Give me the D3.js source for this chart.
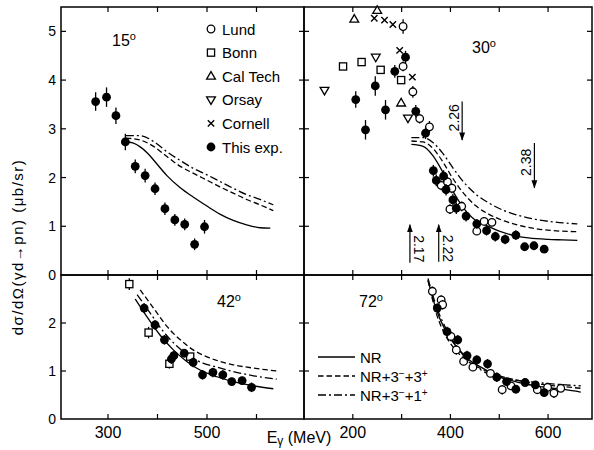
<!DOCTYPE html>
<html>
<head>
<meta charset="utf-8">
<script src="https://cdn.jsdelivr.net/npm/d3@7"></script>
<style>
  body { margin: 0; background: #fff; }
  svg { display: block; font-family: "Liberation Sans", Arial, sans-serif; }
</style>
</head>
<body>
<div id="chart"></div>
<script>
// ---- data: [E_gamma (MeV), dsigma/dOmega (ub/sr), error] ----
const exp15 = [[275,3.56,.19],[297,3.65,.2],[316,3.27,.17],[335,2.73,.17],[355,2.23,.14],[375,2.04,.14],
  [395,1.77,.13],[415,1.36,.13],[435,1.13,.12],[455,1.04,.12],[475,0.63,.12],[495,0.99,.14]];
const nr15   = [[336,2.74],[350,2.71],[365,2.63],[380,2.50],[392,2.36],[419,2.04],[446,1.79],[472,1.60],
  [499,1.42],[526,1.25],[553,1.12],[580,1.03],[607,0.97],[628,0.96]];
const nr33_15 = [[336,2.81],[365,2.77],[392,2.64],[419,2.43],[446,2.23],[472,2.09],[499,1.95],[526,1.81],
  [553,1.68],[580,1.55],[607,1.44],[634,1.32]];
const nr31_15 = [[336,2.86],[365,2.86],[392,2.74],[419,2.53],[446,2.35],[472,2.19],[499,2.06],[526,1.92],
  [553,1.78],[580,1.65],[607,1.55],[634,1.44]];

const exp30 = [[206,3.60,.17],[226,2.98,.2],[246,3.88,.2],[267,3.39,.2],[286,4.18,.13],[308,4.47,.13],
  [329,3.36,.13],[349,2.91,.12],[365,2.14,.12],[371,1.94,.12],[386,2.03,.12],[391,1.75,.12],[405,1.54,.12],
  [412,1.37,.12],[432,1.21,.11],[454,1.05,.1],[474,0.91,.1],[492,0.79,.1],[512,0.73,.1],[534,0.82,.1],
  [552,0.58,.08],[571,0.60,.08],[592,0.53,.08]];
const lund30 = [[303,5.10,.15],[303,4.28,.1],[323,3.76,.12],[337,3.21,.1],[357,3.04,.12],[381,1.84,.1],
  [394,1.91,.1],[403,1.78,.1],[399,1.35,.1],[423,1.41,.1],[454,0.90,.08],[469,1.10,.08],[485,1.08,.08]];
const bonn30 = [[180,4.28],[218,4.37],[257,4.21],[299,4.00]];
const caltech30 = [[203,5.25],[250,5.43],[299,3.53]];
const orsay30 = [[142,3.79],[247,4.47],[313,3.22]];
const cornell30 = [[244,5.27],[265,5.23],[282,5.14],[296,4.61],[322,4.06]];
const nr30   = [[320,2.68],[344,2.64],[364,2.45],[384,2.12],[405,1.72],[425,1.40],[452,1.12],[473,1.02],
  [500,0.90],[530,0.81],[560,0.76],[600,0.73],[630,0.72],[660,0.71]];
const nr33_30 = [[320,2.75],[344,2.73],[364,2.60],[384,2.33],[405,1.98],[425,1.70],[452,1.42],[480,1.24],
  [510,1.11],[540,1.02],[575,0.95],[610,0.91],[660,0.89]];
const nr31_30 = [[320,2.82],[344,2.82],[364,2.72],[384,2.50],[405,2.20],[425,1.93],[452,1.66],[480,1.47],
  [510,1.32],[540,1.22],[575,1.14],[610,1.09],[660,1.05]];

const exp42 = [[373,2.31,.1],[395,1.96,.1],[414,1.65,.1],[428,1.25,.1],[433,1.32,.1],[454,1.37,.08],
  [472,1.18,.1],[491,0.92,.1],[512,0.97,.1],[532,0.92,.1],[550,0.78,.08],[571,0.80,.08],[590,0.66,.1]];
const bonn42 = [[343,2.81,.12],[382,1.80,.12],[424,1.15,.1],[466,1.30,.06]];
const nr42   = [[355,2.50],[378,2.14],[405,1.75],[432,1.44],[459,1.20],[486,1.02],[520,0.88],[553,0.78],
  [594,0.69],[634,0.63]];
const nr33_42 = [[365,2.69],[392,2.31],[419,1.93],[446,1.65],[472,1.44],[499,1.30],[526,1.20],[553,1.13],
  [594,1.06],[641,1.00]];
const nr31_42 = [[359,2.59],[385,2.21],[412,1.82],[439,1.52],[466,1.30],[493,1.16],[520,1.08],[553,0.99],
  [594,0.90],[641,0.83]];

const exp72 = [[373,2.31,.1],[393,1.82,.1],[415,1.65,.1],[434,1.32,.1],[454,1.23,.1],[476,1.15,.1],
  [495,0.87,.1],[515,0.78,.08],[534,0.62,.08],[553,0.76,.08],[574,0.71,.08],[592,0.55,.08]];
const lund72 = [[363,2.66,.1],[381,2.48,.1],[384,2.38,.1],[401,1.72,.1],[412,1.44,.1],[427,1.20,.08],
  [446,1.08,.08],[482,0.95,.08],[506,0.61,.1],[524,0.69,.08],[578,0.61,.08],[599,0.66,.08],[612,0.54,.1],[626,0.64,.08]];
const nr72   = [[354,2.89],[371,2.28],[391,1.82],[412,1.51],[439,1.23],[466,1.06],[500,0.88],[541,0.76],
  [588,0.67],[636,0.61],[667,0.56]];
const nr33_72 = [[354,2.89],[371,2.20],[391,1.72],[412,1.42],[439,1.18],[466,1.03],[500,0.90],[541,0.80],
  [588,0.72],[636,0.67],[667,0.64]];
const nr31_72 = [[354,2.93],[371,2.35],[391,1.88],[412,1.52],[439,1.20],[466,1.00],[500,0.87],[541,0.80],
  [588,0.75],[636,0.71],[667,0.69]];

// dibaryon masses (GeV) and their photon energies, marked in the 30 deg panel
const resonances = [
  { label: "2.17", E: 317, from: 0.25, to: 1.03 },
  { label: "2.22", E: 376, from: 0.27, to: 1.03 },
  { label: "2.26", E: 424, from: 3.56, to: 2.77 },
  { label: "2.38", E: 572, from: 2.71, to: 1.79 }
];

const legendNames = ["Lund", "Bonn", "Cal Tech", "Orsay", "Cornell", "This exp."];
const legendTypes = ["circle", "square", "up", "down", "cross", "dot"];

// ---- layout ----
const svg = d3.select("#chart").append("svg")
    .attr("width", 594)
    .attr("height", 450);

const xL = d3.scaleLinear().domain([205, 696]).range([61, 304]);
const xR = d3.scaleLinear().domain([100, 690]).range([304, 592]);
const yT = d3.scaleLinear().domain([0, 5.5]).range([275, 7]);
const yB = d3.scaleLinear().domain([0, 3]).range([419, 275]);

const panels = [
  { x: xL, y: yT, xt: [300, 400, 500, 600], yt: [1, 2, 3, 4, 5], label: "15", lx: 124, ly: 46,
    curves: [nr15, nr33_15, nr31_15], sets: [["dot", exp15]] },
  { x: xR, y: yT, xt: [200, 300, 400, 500, 600], yt: [1, 2, 3, 4, 5], label: "30", lx: 484, ly: 53,
    curves: [nr30, nr33_30, nr31_30],
    sets: [["square", bonn30], ["up", caltech30], ["down", orsay30], ["cross", cornell30], ["circle", lund30], ["dot", exp30]] },
  { x: xL, y: yB, xt: [300, 400, 500, 600], yt: [1, 2], label: "42", lx: 229, ly: 307,
    curves: [nr42, nr33_42, nr31_42], sets: [["square", bonn42], ["dot", exp42]] },
  { x: xR, y: yB, xt: [200, 300, 400, 500, 600], yt: [1, 2], label: "72", lx: 371, ly: 307,
    curves: [nr72, nr33_72, nr31_72], sets: [["circle", lund72], ["dot", exp72]] }
];

const dashes = [null, "5.5,3", "8,3,2,3"];
const tickLen = 5;

function marker(g, type, cx, cy) {
    if (type === "dot") {
        g.append("circle").attr("cx", cx).attr("cy", cy).attr("r", 4.4).attr("fill", "#000");
    } else if (type === "circle") {
        g.append("circle").attr("cx", cx).attr("cy", cy).attr("r", 3.8)
            .attr("fill", "#fff").attr("stroke", "#000").attr("stroke-width", 1.3);
    } else if (type === "square") {
        g.append("rect").attr("x", cx - 3.6).attr("y", cy - 3.6).attr("width", 7.2).attr("height", 7.2)
            .attr("fill", "#fff").attr("stroke", "#000").attr("stroke-width", 1.3);
    } else if (type === "up") {
        g.append("path").attr("d", `M${cx},${cy - 4.6}L${cx + 4.4},${cy + 3}L${cx - 4.4},${cy + 3}Z`)
            .attr("fill", "#fff").attr("stroke", "#000").attr("stroke-width", 1.3);
    } else if (type === "down") {
        g.append("path").attr("d", `M${cx},${cy + 4.6}L${cx + 4.4},${cy - 3}L${cx - 4.4},${cy - 3}Z`)
            .attr("fill", "#fff").attr("stroke", "#000").attr("stroke-width", 1.3);
    } else if (type === "cross") {
        g.append("path").attr("d", `M${cx - 3.2},${cy - 3.2}L${cx + 3.2},${cy + 3.2}M${cx - 3.2},${cy + 3.2}L${cx + 3.2},${cy - 3.2}`)
            .attr("stroke", "#000").attr("stroke-width", 1.4);
    }
}

panels.forEach(p => {
    const g = svg.append("g");
    const [x0, x1] = p.x.range();
    const [y0, y1] = p.y.range();

    // frame
    g.append("rect")
        .attr("x", x0).attr("y", y1)
        .attr("width", x1 - x0).attr("height", y0 - y1)
        .attr("fill", "none").attr("stroke", "#000").attr("stroke-width", 1.5);

    // ticks, all pointing inwards
    p.xt.forEach(t => {
        g.append("line").attr("x1", p.x(t)).attr("x2", p.x(t)).attr("y1", y0).attr("y2", y0 - tickLen)
            .attr("stroke", "#000").attr("stroke-width", 1.2);
        g.append("line").attr("x1", p.x(t)).attr("x2", p.x(t)).attr("y1", y1).attr("y2", y1 + tickLen)
            .attr("stroke", "#000").attr("stroke-width", 1.2);
    });
    p.yt.forEach(t => {
        g.append("line").attr("x1", x0).attr("x2", x0 + tickLen).attr("y1", p.y(t)).attr("y2", p.y(t))
            .attr("stroke", "#000").attr("stroke-width", 1.2);
        g.append("line").attr("x1", x1).attr("x2", x1 - tickLen).attr("y1", p.y(t)).attr("y2", p.y(t))
            .attr("stroke", "#000").attr("stroke-width", 1.2);
    });

    // theory curves
    const line = d3.line().x(d => p.x(d[0])).y(d => p.y(d[1])).curve(d3.curveMonotoneX);
    p.curves.forEach((c, i) => {
        g.append("path").datum(c).attr("d", line)
            .attr("fill", "none").attr("stroke", "#000").attr("stroke-width", 1.3)
            .attr("stroke-dasharray", dashes[i]);
    });

    // data points with error bars
    p.sets.forEach(([type, data]) => {
        data.forEach(d => {
            if (d[2]) {
                g.append("line").attr("x1", p.x(d[0])).attr("x2", p.x(d[0]))
                    .attr("y1", p.y(d[1] - d[2])).attr("y2", p.y(d[1] + d[2]))
                    .attr("stroke", "#000").attr("stroke-width", 1.3);
            }
            marker(g, type, p.x(d[0]), p.y(d[1]));
        });
    });

    // angle label
    const t = g.append("text").attr("x", p.lx).attr("y", p.ly).attr("text-anchor", "middle")
        .style("font-size", "16px").text(p.label);
    t.append("tspan").attr("dy", -6).style("font-size", "11px").text("o");
});

// y tick labels
[[yT, [0, 1, 2, 3, 4, 5]], [yB, [0, 1, 2]]].forEach(([y, vals]) => {
    vals.forEach(v => {
        svg.append("text").attr("x", 56).attr("y", y(v)).attr("dy", "0.36em")
            .attr("text-anchor", "end").style("font-size", "14px").text(v);
    });
});

// x tick labels
[[xL, [300, 500]], [xR, [200, 400, 600]]].forEach(([x, vals]) => {
    vals.forEach(v => {
        svg.append("text").attr("x", x(v)).attr("y", 438)
            .attr("text-anchor", "middle").style("font-size", "16px").text(v);
    });
});

// axis titles
const xt = svg.append("text").attr("x", 299).attr("y", 443).attr("text-anchor", "middle")
    .style("font-size", "16px");
xt.append("tspan").text("E");
xt.append("tspan").attr("dy", 2).style("font-size", "12px").text("γ");
xt.append("tspan").attr("dy", -2).text(" (MeV)");

svg.append("text")
    .attr("transform", "translate(23,247) rotate(-90)")
    .attr("text-anchor", "middle")
    .style("font-size", "15px")
    .style("letter-spacing", "1.5px")
    .text("dσ/dΩ(γd→pn)  (μb/sr)");

// symbol legend (15 deg panel)
legendNames.forEach((name, i) => {
    const cy = 29 + i * 23.6;
    marker(svg, legendTypes[i], 211, cy);
    svg.append("text").attr("x", 222).attr("y", cy + 5.5).style("font-size", "15px").text(name);
});

// curve legend (72 deg panel)
const curveNames = [["NR"], ["NR+3", "−", "+3", "+"], ["NR+3", "−", "+1", "+"]];
curveNames.forEach((parts, i) => {
    const cy = 357 + i * 19;
    svg.append("line").attr("x1", 318).attr("x2", 355).attr("y1", cy).attr("y2", cy)
        .attr("stroke", "#000").attr("stroke-width", 1.3).attr("stroke-dasharray", dashes[i]);
    const t = svg.append("text").attr("x", 360).attr("y", cy + 5.5).style("font-size", "15px");
    parts.forEach((s, j) => {
        if (j % 2 === 0) t.append("tspan").attr("dy", j ? 5 : 0).style("font-size", "15px").text(s);
        else t.append("tspan").attr("dy", -5).style("font-size", "10px").text(s);
    });
});

// resonance arrows (30 deg panel)
svg.append("defs").append("marker")
    .attr("id", "ah").attr("viewBox", "0 0 10 10").attr("refX", 9).attr("refY", 5)
    .attr("markerWidth", 7).attr("markerHeight", 7).attr("orient", "auto")
    .append("path").attr("d", "M0,1.5L10,5L0,8.5Z").attr("fill", "#000");

resonances.forEach(r => {
    const x = xR(r.E);
    const ya = yT(r.from), yb = yT(r.to);
    svg.append("line").attr("x1", x).attr("x2", x).attr("y1", ya).attr("y2", yb)
        .attr("stroke", "#000").attr("stroke-width", 1.2).attr("marker-end", "url(#ah)");
    const up = r.to > r.from;
    const ym = (ya + yb) / 2 + (up ? 5 : -3);
    svg.append("text")
        .attr("transform", up ? `translate(${x + 4},${ym}) rotate(90)` : `translate(${x - 3},${ym}) rotate(-90)`)
        .attr("text-anchor", "middle")
        .style("font-size", "14px")
        .text(r.label);
});
</script>
</body>
</html>
